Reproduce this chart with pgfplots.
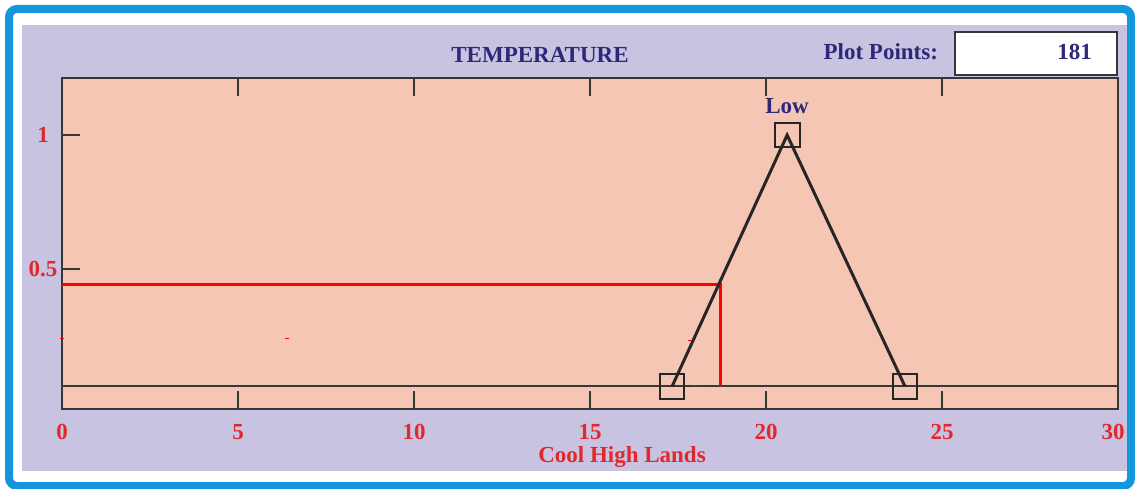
\documentclass[border=0pt]{standalone}
\usepackage{fontspec}
\setmainfont{Liberation Serif}
\usepackage{pgfplots}
\pgfplotsset{compat=1.18}
\definecolor{bluebd}{RGB}{20,150,220}
\definecolor{lav}{RGB}{200,195,224}
\definecolor{salmon}{RGB}{245,198,180}
\definecolor{navy}{RGB}{45,40,120}
\definecolor{lblred}{RGB}{225,40,45}
\definecolor{axgray}{RGB}{55,55,55}
\newcommand{\lbl}{\bfseries\fontsize{11.5}{12}\selectfont}

\begin{document}
\begin{tikzpicture}
% panel and frame, in units of half a point (one pixel of the reference)
\begin{scope}[x=0.5pt,y=0.5pt]
\path[use as bounding box] (0,0) rectangle (1135,488);
\fill[white] (0,0) rectangle (1135,488);
\draw[bluebd, line width=4pt, rounded corners=4pt] (9,2) rectangle (1131,479);
\fill[lav] (22,17) rectangle (1127,463);
\node[font=\lbl, text=navy] at (540,433) {TEMPERATURE};
\node[font=\lbl, text=navy, anchor=east] at (945,436) {Plot Points:};
\draw[axgray, line width=1pt, fill=white] (955,413) rectangle (1117,456);
\node[font=\lbl, text=navy, anchor=east] at (1099,436) {181};
\node[font=\lbl, text=lblred] at (622,31) {Cool High Lands};
\end{scope}

\begin{axis}[
  at={(31pt,39.5pt)}, anchor=south west,
  scale only axis, width=528pt, height=165.5pt,
  xmin=0, xmax=30, ymin=-0.022, ymax=1.213,
  axis background/.style={fill=salmon},
  axis line style={axgray, line width=1.25pt},
  xtick={0,5,...,30}, ytick={0.5,1},
  xticklabels={0,5,10,15,20,25,\makebox[0pt]{\kern-5pt 30}},
  tick align=inside, ytick pos=left,
  major tick length=9pt,
  tick style={axgray, line width=1pt},
  ticklabel style={font=\lbl, text=lblred},
  /pgf/number format/assume math mode=true,
  xticklabel style={yshift=-4pt},
  yticklabel style={anchor=center, xshift=-9.5pt},
]
\addplot[axgray, line width=1pt] coordinates {(0,0.062) (30,0.062)};
\addplot[red, line width=1.5pt] coordinates {(0,0.444) (18.72,0.444) (18.72,0.062)};
\addplot[only marks, red, mark=-, mark size=1.2pt] coordinates {(0,0.243) (6.39,0.240) (17.84,0.235) (17.98,0.067)};
\addplot[black!85, line width=1.5pt, mark=square, mark size=6.2pt,
  mark options={line width=1pt, solid}] coordinates {(17.33,0.062) (20.6,1) (23.95,0.062)};
\node[font=\lbl, text=navy] at (axis cs:20.6,1.108) {Low};
\end{axis}
\end{tikzpicture}
\end{document}
